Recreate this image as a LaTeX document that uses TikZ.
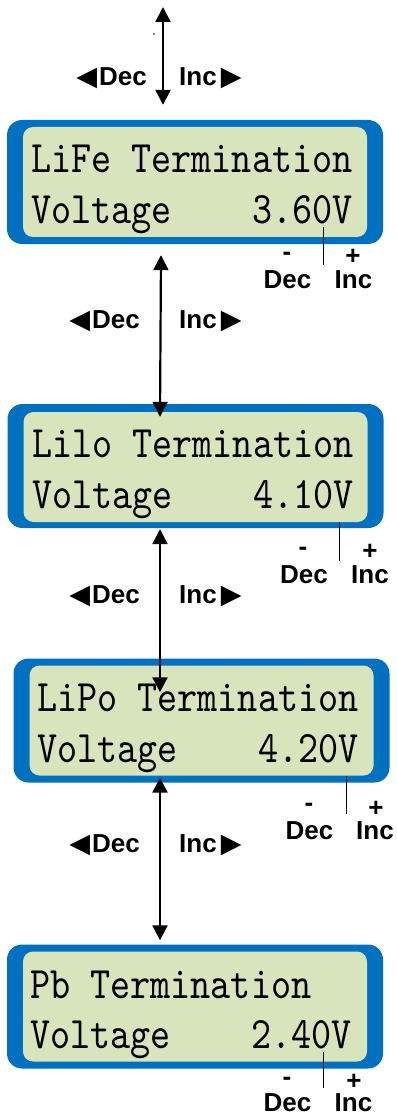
\documentclass[tikz,border=0pt]{standalone}
\usepackage{fontspec}
\setmainfont{Liberation Sans}
\newfontfamily\lcdfont[FakeStretch=0.85]{lmmono10-regular.otf}
\newfontfamily\symfont{DejaVu Sans}
\usetikzlibrary{arrows.meta}
\definecolor{lcdblue}{RGB}{0,112,192}
\definecolor{lcdgreen}{RGB}{216,228,188}
\newcommand{\lt}{{\symfont\fontsize{27}{27}\selectfont ◀}\hspace{2pt}}
\newcommand{\rt}{\hspace{4pt}{\symfont\fontsize{27}{27}\selectfont ▶}}

\begin{document}
\begin{tikzpicture}[x=1pt,y=-1pt,
  frame/.style={fill=lcdblue,rounded corners=15pt,minimum width=376pt,minimum height=124pt,inner sep=0pt},
  screen/.style={fill=lcdgreen,rounded corners=10pt,minimum width=344pt,minimum height=110pt,inner sep=0pt},
  lcd/.style={anchor=base west,inner sep=0pt,font=\lcdfont\fontsize{45}{45}\selectfont},
  key/.style={inner sep=0pt,font=\bfseries\fontsize{26}{26}\selectfont},
  updown/.style={line width=2.2pt,{Triangle[length=15pt,width=15pt]}-{Triangle[length=15pt,width=15pt]}},
  pointer/.style={line width=0.9pt}]
\useasboundingbox (0,0) rectangle (396,1115);

% the four screens
\node[frame] (frame1) at (195,182) {};
\node[screen] (screen1) at (195,182) {};
\node[lcd] (title1) at (31,173) {LiFe Termination};
\node[lcd] (volt1) at (31,223) {Voltage~~~~3.60V};

\node[frame] (frame2) at (195.5,466) {};
\node[screen] (screen2) at (195.5,467) {};
\node[lcd] (title2) at (32,457) {Lilo Termination};
\node[lcd] (volt2) at (32,508) {Voltage~~~~4.10V};

\node[frame] (frame3) at (201.5,720.5) {};
\node[screen] (screen3) at (201.5,720.5) {};
\node[lcd] (title3) at (37,711) {LiPo Termination};
\node[lcd] (volt3) at (37,762) {Voltage~~~~4.20V};

\node[frame] (frame4) at (195,1006.5) {};
\node[screen] (screen4) at (195,1006.5) {};
\node[lcd] (title4) at (30,998) {Pb Termination};
\node[lcd] (volt4) at (30,1048) {Voltage~~~~2.40V};

% up/down keys
\fill (154,34) circle (0.8);
\coordinate (top) at (163,7);
\draw[updown] (top) -- ([xshift=-32pt,yshift=15pt]frame1.north);
\draw[updown] ([xshift=-34pt,yshift=-11pt]frame1.south) -- ([xshift=-35.5pt,yshift=-13pt]frame2.north);
\draw[updown] ([xshift=-35.5pt,yshift=-1pt]frame2.south) -- ([xshift=-41.5pt,yshift=-34pt]frame3.north);
\draw[updown] ([xshift=-41.5pt,yshift=5pt]frame3.south) -- ([xshift=-35pt,yshift=4pt]frame4.north);

\node[key,anchor=base east] (dec0) at (147,86) {\lt Dec};
\node[key,anchor=base west] (inc0) at (179,86) {Inc\rt};
\node[key,anchor=base east] (dec1) at (140,328) {\lt Dec};
\node[key,anchor=base west] (inc1) at (179,328) {Inc\rt};
\node[key,anchor=base east] (dec2) at (140,603) {\lt Dec};
\node[key,anchor=base west] (inc2) at (179,603) {Inc\rt};
\node[key,anchor=base east] (dec3) at (140,852) {\lt Dec};
\node[key,anchor=base west] (inc3) at (179,852) {Inc\rt};

% left/right keys
\coordinate (p1) at (323,227);
\coordinate (q1) at (323,265);
\draw[pointer] (p1) -- (q1);
\node[key,anchor=base] (less1) at (287.5,288) {Dec};
\node[key,anchor=base] (more1) at (353.5,288) {Inc};
\node[key] (minus1) at (287,256) {-};
\node[key] (plus1) at (353,257) {+};

\coordinate (q2) at (339,561);
\draw[pointer] (screen2.south -| q2) -- (q2);
\node[key,anchor=base] (less2) at (304,583) {Dec};
\node[key,anchor=base] (more2) at (370,583) {Inc};
\node[key] (minus2) at (303,551) {-};
\node[key] (plus2) at (370,552) {+};

\coordinate (q3) at (346,814);
\draw[pointer] (screen3.south -| q3) -- (q3);
\node[key,anchor=base] (less3) at (309.5,839) {Dec};
\node[key,anchor=base] (more3) at (375,839) {Inc};
\node[key] (minus3) at (309,807) {-};
\node[key] (plus3) at (376,809) {+};

\coordinate (p4) at (323,1052);
\coordinate (q4) at (323,1088);
\draw[pointer] (p4) -- (q4);
\node[key,anchor=base] (less4) at (287.5,1111) {Dec};
\node[key,anchor=base] (more4) at (353.5,1111) {Inc};
\node[key] (minus4) at (287,1081) {-};
\node[key] (plus4) at (354,1082) {+};
\end{tikzpicture}
\end{document}
